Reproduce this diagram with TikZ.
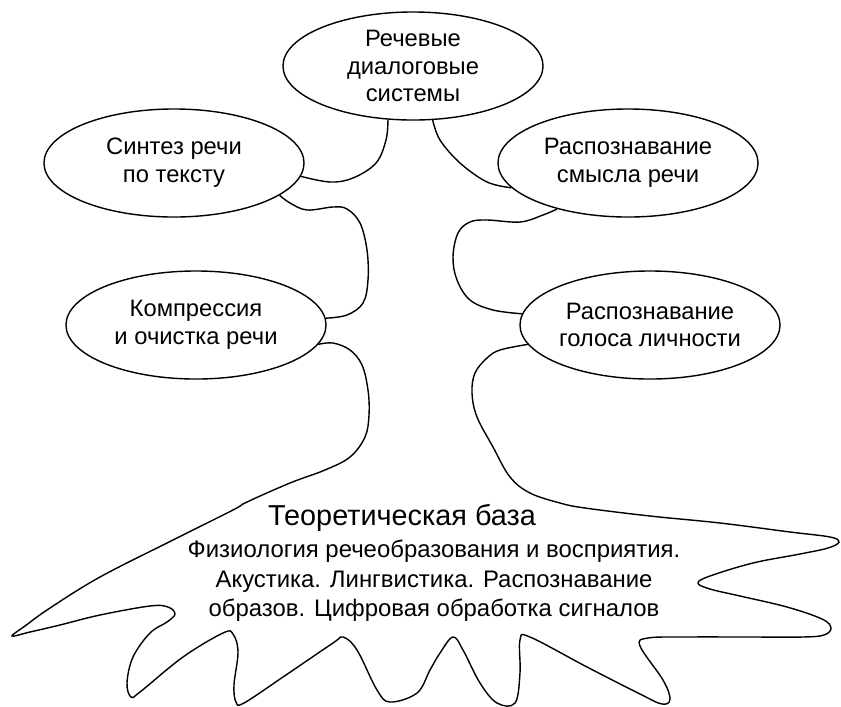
\documentclass[tikz,border=0pt]{standalone}
\usepackage{fontspec}
\setmainfont{Liberation Sans}
\usetikzlibrary{shapes.geometric}

\begin{document}
\begin{tikzpicture}[x=0.025cm, y=-0.025cm]
  \tikzstyle{leaf}=[ellipse, draw, line width=1pt, minimum width=6.5cm, minimum height=2.7cm, inner sep=0pt, align=center, font=\fontsize{16.9}{19.8}\selectfont]
  \tikzstyle{branch}=[line width=1pt, smooth, tension=0.6]
  \useasboundingbox (0,0) rectangle (841,706);

  % Крона
  \node[leaf] (sys) at (413,66) {Речевые\\диалоговые\\системы};
  \node[leaf] (synth) at (174,163) {Синтез речи\\по тексту};
  \node[leaf] (sense) at (628,163) {Распознавание\\смысла речи};
  \node[leaf] (compr) at (196,325) {Компрессия\\и очистка речи};
  \node[leaf] (voice) at (650,325) {Распознавание\\голоса личности};

  % Ветви
  \draw[branch] plot coordinates {(sys.245) (386,140) (376,163) (353,178) (330,182) (synth.354)};
  \draw[branch] plot coordinates {(sys.290) (440,140) (460,163) (487,182) (sense.192)};
  \draw[branch] plot coordinates {(synth.343) (290,203) (307,210) (333,207) (347,209) (360,223) (367,250) (368,280) (363,303) (347,315) (compr.3)};
  \draw[branch] plot coordinates {(sense.213) (543,215) (520,222) (487,220) (470,222) (458,233) (453,257) (457,280) (470,300) (493,310) (voice.175)};

  % Ствол и корни
  \draw[branch] plot coordinates {(compr.351) (333,343) (350,350) (362,365) (368,390) (369,415) (365,437) (350,457)
    (325,470) (290,483) (247,502) (233,510) (173,540) (100,577) (50,608) (25,626) (12,636) (30,632) (60,625) (100,615) (150,606)
    (168,607) (175,614) (167,622) (150,633) (133,657) (127,683) (131,697) (140,692) (183,657) (223,633) (233,634)
    (238,652) (234,685) (236,702) (244,703) (283,677) (333,643) (343,637) (357,650) (377,690) (390,702) (417,693)
    (430,670) (440,653) (453,637) (463,650) (480,683) (497,703) (515,703) (520,673) (520,640) (530,637) (587,667)
    (640,694) (662,704) (670,699) (663,680) (640,646) (648,638) (687,637) (750,637) (803,637) (824,635) (831,628)
    (822,619) (787,607) (740,596) (710,589) (698,583) (710,576) (753,563) (800,554) (828,548) (839,542) (830,537)
    (790,532) (720,523) (650,516) (585,508) (560,503) (530,493) (510,477) (493,447) (477,417) (472,393) (475,373)
    (487,358) (500,350) (voice.189)};

  % Основа
  \node[anchor=base, font=\fontsize{20.5}{24}\selectfont] (base) at (402,525) {Теоретическая база};
  \node[align=center, font=\fontsize{17}{20.9}\selectfont] (basetext) at (434,581) {Физиология речеобразования и восприятия.\\Акустика. Лингвистика. Распознавание\\образов. Цифровая обработка сигналов};
\end{tikzpicture}
\end{document}
